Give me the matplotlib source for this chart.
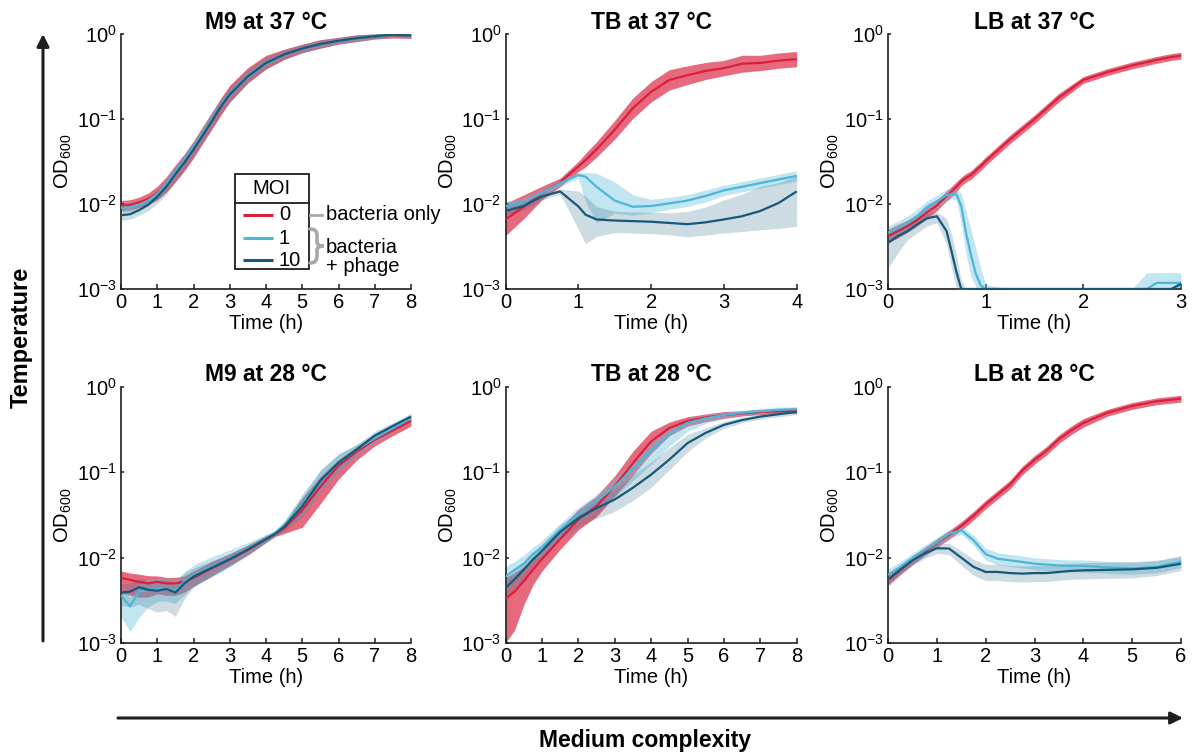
import numpy as np
import matplotlib
matplotlib.use("Agg")
import matplotlib.pyplot as plt
from matplotlib.path import Path
from matplotlib.patches import PathPatch, Rectangle
from matplotlib.ticker import FixedLocator, FuncFormatter

plt.rcParams["font.family"] = ["Liberation Sans", "DejaVu Sans"]
plt.rcParams["mathtext.fontset"] = "custom"
plt.rcParams["mathtext.rm"] = "Liberation Sans"
plt.rcParams["mathtext.it"] = "Liberation Sans:italic"
plt.rcParams["mathtext.bf"] = "Liberation Sans:bold"

# ---------------------------------------------------------------------------
# Growth curves (OD600, mean of replicates) and band widths in decades
# (dn = below the mean, up = above the mean) for MOI 0, 1 and 10.
# ---------------------------------------------------------------------------

# M9 at 37 °C
m9_37_t = [0, 0.25, 0.5, 0.75, 1, 1.25, 1.5, 1.75, 2, 2.25, 2.5, 2.75, 3, 3.5, 4, 4.5, 5, 5.5, 6, 6.5, 7, 7.5, 8]
m9_37_moi0 = [0.0096, 0.0098, 0.0105, 0.0115, 0.0135, 0.017, 0.023, 0.031, 0.044, 0.065, 0.095, 0.14, 0.20, 0.33, 0.47, 0.58, 0.68, 0.77, 0.84, 0.90, 0.94, 0.97, 0.96]
m9_37_moi1 = [0.0090, 0.0092, 0.0098, 0.011, 0.0132, 0.0172, 0.024, 0.033, 0.047, 0.068, 0.10, 0.145, 0.20, 0.33, 0.47, 0.58, 0.68, 0.77, 0.84, 0.90, 0.95, 0.98, 0.97]
m9_37_moi10 = [0.0074, 0.0076, 0.0085, 0.0098, 0.0122, 0.016, 0.0225, 0.031, 0.044, 0.064, 0.094, 0.14, 0.195, 0.32, 0.46, 0.58, 0.68, 0.77, 0.84, 0.90, 0.95, 0.99, 0.97]
m9_37_moi0_dn = [0.06, 0.06, 0.06, 0.07, 0.08, 0.09, 0.10, 0.10, 0.10, 0.10, 0.10, 0.10, 0.10, 0.09, 0.08, 0.06, 0.05, 0.05, 0.04, 0.04, 0.03, 0.03, 0.03]
m9_37_moi0_up = m9_37_moi0_dn
m9_37_moi1_dn = [0.05, 0.05, 0.05, 0.05, 0.05, 0.06, 0.06, 0.06, 0.06, 0.06, 0.05, 0.05, 0.05, 0.04, 0.04, 0.03, 0.03, 0.03, 0.03, 0.03, 0.03, 0.03, 0.03]
m9_37_moi1_up = m9_37_moi1_dn
m9_37_moi10_dn = [0.06, 0.06, 0.06, 0.07, 0.08, 0.09, 0.09, 0.09, 0.09, 0.09, 0.09, 0.09, 0.09, 0.08, 0.07, 0.06, 0.05, 0.05, 0.04, 0.04, 0.03, 0.03, 0.03]
m9_37_moi10_up = m9_37_moi10_dn

# TB at 37 °C
tb_37_t = [0, 0.25, 0.5, 0.75, 1, 1.1, 1.25, 1.5, 1.75, 2, 2.25, 2.5, 2.75, 3, 3.25, 3.5, 3.75, 4]
tb_37_moi0 = [0.0066, 0.0093, 0.0135, 0.018, 0.0277, 0.033, 0.044, 0.075, 0.135, 0.21, 0.29, 0.33, 0.37, 0.40, 0.45, 0.46, 0.49, 0.51]
tb_37_moi1 = [0.0094, 0.0105, 0.0135, 0.0177, 0.022, 0.021, 0.016, 0.011, 0.0093, 0.0095, 0.0102, 0.011, 0.0125, 0.0145, 0.016, 0.0177, 0.0195, 0.0215]
tb_37_moi10 = [0.0083, 0.0095, 0.0123, 0.0141, 0.0094, 0.0075, 0.0066, 0.0064, 0.0063, 0.0062, 0.0060, 0.0058, 0.0061, 0.0066, 0.0072, 0.0083, 0.0103, 0.0141]
tb_37_moi0_dn = [0.19, 0.14, 0.08, 0.05, 0.06, 0.08, 0.09, 0.11, 0.12, 0.12, 0.12, 0.11, 0.10, 0.09, 0.10, 0.09, 0.09, 0.09]
tb_37_moi0_up = tb_37_moi0_dn
tb_37_moi1_dn = [0.06, 0.05, 0.04, 0.04, 0.04, 0.30, 0.42, 0.15, 0.10, 0.08, 0.07, 0.07, 0.07, 0.06, 0.06, 0.06, 0.06, 0.06]
tb_37_moi1_up = [0.06, 0.05, 0.04, 0.04, 0.03, 0.05, 0.16, 0.22, 0.14, 0.08, 0.07, 0.07, 0.07, 0.06, 0.06, 0.06, 0.06, 0.06]
tb_37_moi10_dn = [0.05, 0.05, 0.04, 0.03, 0.27, 0.34, 0.20, 0.14, 0.14, 0.14, 0.14, 0.15, 0.15, 0.16, 0.18, 0.22, 0.30, 0.41]
tb_37_moi10_up = [0.05, 0.05, 0.04, 0.03, 0.18, 0.22, 0.15, 0.11, 0.11, 0.11, 0.12, 0.15, 0.18, 0.23, 0.26, 0.29, 0.24, 0.18]

# LB at 37 °C (lysed cultures sit at the 10^-3 detection floor)
lb_37_t = [0, 0.1, 0.2, 0.3, 0.4, 0.5, 0.6, 0.65, 0.7, 0.75, 0.8, 0.85, 0.9, 0.95, 1.0, 1.25, 1.5, 1.75, 2.0, 2.25, 2.5, 2.65, 2.75, 2.9, 3.0]
lb_37_moi0 = [0.0042, 0.0048, 0.0055, 0.0065, 0.0080, 0.0096, 0.0125, 0.014, 0.016, 0.0185, 0.0205, 0.022, 0.025, 0.028, 0.032, 0.058, 0.10, 0.18, 0.29, 0.36, 0.43, 0.47, 0.50, 0.54, 0.56]
lb_37_moi1 = [0.0046, 0.0052, 0.0060, 0.0072, 0.0093, 0.0108, 0.0128, 0.0132, 0.0130, 0.0095, 0.0045, 0.0025, 0.0015, 0.0011, 0.001, 0.001, 0.001, 0.001, 0.001, 0.001, 0.001, 0.001, 0.00118, 0.00118, 0.00118]
lb_37_moi10 = [0.0035, 0.0042, 0.0048, 0.0058, 0.0068, 0.0072, 0.0048, 0.0028, 0.0016, 0.001, 0.001, 0.001, 0.001, 0.001, 0.001, 0.001, 0.001, 0.001, 0.001, 0.001, 0.001, 0.001, 0.001, 0.001, 0.00115]
lb_37_moi0_dn = [0.08, 0.08, 0.07, 0.07, 0.07, 0.06, 0.06, 0.06, 0.06, 0.05, 0.05, 0.05, 0.05, 0.05, 0.05, 0.05, 0.05, 0.05, 0.04, 0.04, 0.04, 0.04, 0.04, 0.04, 0.04]
lb_37_moi0_up = lb_37_moi0_dn
lb_37_moi1_dn = [0.12, 0.10, 0.09, 0.08, 0.08, 0.08, 0.07, 0.06, 0.06, 0.20, 0.25, 0.25, 0.15, 0.05, 0, 0, 0, 0, 0, 0, 0, 0, 0.07, 0.07, 0.07]
lb_37_moi1_up = [0.08, 0.08, 0.08, 0.08, 0.07, 0.07, 0.07, 0.06, 0.06, 0.15, 0.25, 0.30, 0.30, 0.20, 0.05, 0, 0, 0, 0, 0, 0, 0.19, 0.12, 0.12, 0.12]
lb_37_moi10_dn = [0.30, 0.20, 0.10, 0.10, 0.09, 0.08, 0.15, 0.20, 0.20, 0.10, 0, 0, 0, 0, 0, 0, 0, 0, 0, 0, 0, 0, 0, 0, 0.05]
lb_37_moi10_up = [0.10, 0.10, 0.09, 0.08, 0.06, 0.05, 0.15, 0.20, 0.20, 0.10, 0, 0, 0, 0, 0, 0, 0, 0, 0, 0, 0, 0, 0, 0, 0.05]

# M9 at 28 °C
m9_28_t = [0, 0.25, 0.5, 0.75, 1, 1.25, 1.5, 1.75, 2, 2.5, 3, 3.5, 4, 4.25, 4.5, 5, 5.5, 6, 6.5, 7, 7.5, 8]
m9_28_moi0 = [0.0058, 0.0055, 0.0052, 0.0050, 0.0052, 0.0050, 0.0050, 0.0052, 0.0058, 0.0075, 0.0095, 0.0123, 0.0165, 0.019, 0.022, 0.036, 0.068, 0.12, 0.175, 0.24, 0.31, 0.40]
m9_28_moi1 = [0.0036, 0.0027, 0.0040, 0.0042, 0.0043, 0.0044, 0.0041, 0.0052, 0.0062, 0.0078, 0.0098, 0.0128, 0.0167, 0.0195, 0.024, 0.042, 0.080, 0.13, 0.185, 0.25, 0.33, 0.43]
m9_28_moi10 = [0.0039, 0.0040, 0.0045, 0.0042, 0.0041, 0.0043, 0.0039, 0.0050, 0.0060, 0.0076, 0.0096, 0.0125, 0.0165, 0.019, 0.023, 0.040, 0.080, 0.13, 0.185, 0.27, 0.35, 0.45]
m9_28_moi0_dn = [0.18, 0.18, 0.18, 0.16, 0.14, 0.14, 0.14, 0.12, 0.10, 0.09, 0.07, 0.06, 0.04, 0.03, 0.06, 0.20, 0.20, 0.16, 0.10, 0.07, 0.06, 0.06]
m9_28_moi0_up = [0.08, 0.08, 0.09, 0.09, 0.07, 0.07, 0.07, 0.07, 0.08, 0.08, 0.07, 0.06, 0.04, 0.03, 0.06, 0.14, 0.12, 0.07, 0.06, 0.05, 0.05, 0.05]
m9_28_moi1_dn = [0.25, 0.30, 0.30, 0.20, 0.15, 0.15, 0.15, 0.15, 0.13, 0.12, 0.10, 0.07, 0.05, 0.03, 0.05, 0.12, 0.12, 0.10, 0.06, 0.05, 0.04, 0.04]
m9_28_moi1_up = [0.10, 0.10, 0.10, 0.12, 0.12, 0.12, 0.12, 0.12, 0.12, 0.12, 0.10, 0.07, 0.05, 0.03, 0.05, 0.12, 0.12, 0.10, 0.06, 0.05, 0.04, 0.04]
m9_28_moi10_dn = [0.15, 0.18, 0.20, 0.22, 0.25, 0.25, 0.28, 0.18, 0.12, 0.10, 0.08, 0.06, 0.04, 0.03, 0.05, 0.12, 0.12, 0.10, 0.06, 0.05, 0.04, 0.04]
m9_28_moi10_up = [0.10, 0.10, 0.10, 0.10, 0.12, 0.12, 0.12, 0.12, 0.10, 0.08, 0.06, 0.05, 0.04, 0.03, 0.05, 0.12, 0.12, 0.10, 0.06, 0.05, 0.04, 0.04]

# TB at 28 °C
tb_28_t = [0, 0.25, 0.5, 0.75, 1, 1.5, 2, 2.5, 3, 3.5, 4, 4.5, 5, 5.5, 6, 6.5, 7, 7.5, 8]
tb_28_moi0 = [0.0033, 0.0040, 0.0053, 0.0072, 0.0096, 0.0165, 0.028, 0.040, 0.069, 0.128, 0.23, 0.33, 0.40, 0.44, 0.47, 0.49, 0.51, 0.52, 0.53]
tb_28_moi1 = [0.0060, 0.0072, 0.0085, 0.011, 0.0132, 0.021, 0.032, 0.046, 0.068, 0.11, 0.18, 0.28, 0.38, 0.43, 0.47, 0.50, 0.52, 0.54, 0.55]
tb_28_moi10 = [0.0044, 0.0056, 0.0072, 0.0095, 0.012, 0.020, 0.029, 0.038, 0.048, 0.066, 0.094, 0.141, 0.22, 0.29, 0.36, 0.41, 0.45, 0.48, 0.51]
tb_28_moi0_dn = [0.52, 0.45, 0.28, 0.18, 0.14, 0.12, 0.12, 0.12, 0.12, 0.14, 0.14, 0.09, 0.06, 0.05, 0.04, 0.03, 0.03, 0.03, 0.03]
tb_28_moi0_up = [0.25, 0.22, 0.17, 0.14, 0.12, 0.12, 0.12, 0.12, 0.12, 0.14, 0.12, 0.07, 0.05, 0.04, 0.04, 0.03, 0.03, 0.03, 0.03]
tb_28_moi1_dn = [0.12, 0.10, 0.10, 0.08, 0.08, 0.08, 0.08, 0.10, 0.12, 0.14, 0.16, 0.14, 0.10, 0.06, 0.04, 0.03, 0.03, 0.03, 0.03]
tb_28_moi1_up = [0.12, 0.10, 0.10, 0.08, 0.08, 0.08, 0.08, 0.08, 0.10, 0.10, 0.10, 0.08, 0.05, 0.04, 0.03, 0.03, 0.03, 0.03, 0.03]
tb_28_moi10_dn = [0.15, 0.12, 0.10, 0.08, 0.08, 0.08, 0.10, 0.12, 0.14, 0.15, 0.15, 0.12, 0.10, 0.06, 0.04, 0.03, 0.03, 0.03, 0.03]
tb_28_moi10_up = [0.12, 0.10, 0.08, 0.08, 0.08, 0.08, 0.08, 0.10, 0.12, 0.15, 0.15, 0.14, 0.10, 0.06, 0.04, 0.03, 0.03, 0.03, 0.03]

# LB at 28 °C
lb_28_t = [0, 0.25, 0.5, 0.75, 1, 1.25, 1.5, 1.75, 2, 2.25, 2.5, 2.75, 3, 3.25, 3.5, 3.75, 4, 4.5, 5, 5.5, 6]
lb_28_moi0 = [0.0055, 0.0072, 0.0093, 0.0118, 0.0148, 0.0185, 0.0235, 0.031, 0.042, 0.055, 0.072, 0.105, 0.14, 0.18, 0.245, 0.31, 0.38, 0.50, 0.60, 0.68, 0.73]
lb_28_moi1 = [0.0063, 0.0078, 0.0098, 0.0122, 0.015, 0.019, 0.021, 0.016, 0.011, 0.0097, 0.0093, 0.0089, 0.0085, 0.0083, 0.0081, 0.0080, 0.0080, 0.0077, 0.0075, 0.0078, 0.0090]
lb_28_moi10 = [0.0055, 0.0072, 0.0093, 0.0112, 0.0129, 0.0128, 0.0100, 0.0078, 0.0068, 0.0068, 0.0066, 0.0065, 0.0066, 0.0066, 0.0068, 0.0070, 0.0071, 0.0072, 0.0073, 0.0076, 0.0085]
lb_28_moi0_dn = [0.06, 0.05, 0.05, 0.05, 0.05, 0.05, 0.05, 0.05, 0.05, 0.05, 0.05, 0.05, 0.05, 0.05, 0.05, 0.05, 0.05, 0.04, 0.04, 0.04, 0.04]
lb_28_moi0_up = lb_28_moi0_dn
lb_28_moi1_dn = [0.07, 0.06, 0.06, 0.06, 0.06, 0.05, 0.05, 0.06, 0.07, 0.07, 0.07, 0.07, 0.07, 0.07, 0.07, 0.07, 0.07, 0.07, 0.07, 0.07, 0.07]
lb_28_moi1_up = lb_28_moi1_dn
lb_28_moi10_dn = [0.08, 0.07, 0.06, 0.06, 0.06, 0.07, 0.09, 0.10, 0.10, 0.10, 0.10, 0.10, 0.10, 0.10, 0.10, 0.10, 0.10, 0.10, 0.10, 0.09, 0.08]
lb_28_moi10_up = [0.07, 0.06, 0.06, 0.06, 0.06, 0.06, 0.08, 0.09, 0.09, 0.09, 0.09, 0.09, 0.09, 0.09, 0.09, 0.09, 0.09, 0.09, 0.09, 0.09, 0.08]

panel_titles = ["M9 at 37 °C", "TB at 37 °C", "LB at 37 °C",
                "M9 at 28 °C", "TB at 28 °C", "LB at 28 °C"]
panel_xmax = [8, 4, 3, 8, 8, 6]
moi_labels = ["0", "1", "10"]

panels = [
    (m9_37_t, [(m9_37_moi0, m9_37_moi0_dn, m9_37_moi0_up),
               (m9_37_moi1, m9_37_moi1_dn, m9_37_moi1_up),
               (m9_37_moi10, m9_37_moi10_dn, m9_37_moi10_up)]),
    (tb_37_t, [(tb_37_moi0, tb_37_moi0_dn, tb_37_moi0_up),
               (tb_37_moi1, tb_37_moi1_dn, tb_37_moi1_up),
               (tb_37_moi10, tb_37_moi10_dn, tb_37_moi10_up)]),
    (lb_37_t, [(lb_37_moi0, lb_37_moi0_dn, lb_37_moi0_up),
               (lb_37_moi1, lb_37_moi1_dn, lb_37_moi1_up),
               (lb_37_moi10, lb_37_moi10_dn, lb_37_moi10_up)]),
    (m9_28_t, [(m9_28_moi0, m9_28_moi0_dn, m9_28_moi0_up),
               (m9_28_moi1, m9_28_moi1_dn, m9_28_moi1_up),
               (m9_28_moi10, m9_28_moi10_dn, m9_28_moi10_up)]),
    (tb_28_t, [(tb_28_moi0, tb_28_moi0_dn, tb_28_moi0_up),
               (tb_28_moi1, tb_28_moi1_dn, tb_28_moi1_up),
               (tb_28_moi10, tb_28_moi10_dn, tb_28_moi10_up)]),
    (lb_28_t, [(lb_28_moi0, lb_28_moi0_dn, lb_28_moi0_up),
               (lb_28_moi1, lb_28_moi1_dn, lb_28_moi1_up),
               (lb_28_moi10, lb_28_moi10_dn, lb_28_moi10_up)]),
]

line_colors = ["#DA1F3D", "#4DB6D6", "#15587A"]
band_colors = ["#DE2A46", "#6CC3DE", "#3E7590"]
band_alphas = [0.7, 0.42, 0.26]
ink = "#1E1E1E"

W, H = 1193, 752
fig = plt.figure(figsize=(W / 100, H / 100), dpi=100)

col_px = [(121, 411), (505.5, 796.7), (888, 1181)]
row_px = [(34.3, 289), (387, 643)]


def decade_label(v, pos):
    return r"$\mathregular{10^{%d}}$" % int(round(np.log10(v)))


for i, (t, series) in enumerate(panels):
    r, c = divmod(i, 3)
    l, rr = col_px[c]
    top, bot = row_px[r]
    ax = fig.add_axes([l / W, 1 - bot / H, (rr - l) / W, (bot - top) / H])
    t = np.asarray(t)
    for k, (mean, dn, up) in enumerate(series):
        m = np.asarray(mean)
        ax.fill_between(t, m / 10 ** np.asarray(dn), m * 10 ** np.asarray(up),
                        color=band_colors[k], alpha=band_alphas[k], lw=0, zorder=1 + k)
    for k, (mean, dn, up) in enumerate(series):
        ax.plot(t, mean, color=line_colors[k], lw=1.6, zorder=5 + k,
                solid_capstyle="butt")
    ax.set_yscale("log")
    ax.set_ylim(1e-3, 1)
    ax.set_xlim(0, panel_xmax[i])
    ax.yaxis.set_major_locator(FixedLocator([1e-3, 1e-2, 1e-1, 1]))
    ax.yaxis.set_minor_locator(FixedLocator([]))
    ax.yaxis.set_major_formatter(FuncFormatter(decade_label))
    ax.set_xticks(range(panel_xmax[i] + 1))
    for s in ("top", "right"):
        ax.spines[s].set_visible(False)
    for s in ("left", "bottom"):
        ax.spines[s].set_linewidth(1.2)
        ax.spines[s].set_color(ink)
    ax.tick_params(axis="x", direction="in", length=3.5, width=1.1, color=ink,
                   labelsize=14.5, pad=3, labelcolor="black")
    ax.tick_params(axis="y", direction="in", length=2.5, width=1.1, color=ink,
                   labelsize=14.5, pad=3, labelcolor="black")
    ax.set_xlabel("Time (h)", fontsize=14.5, labelpad=1)
    ax.set_ylabel(r"OD$\mathregular{_{600}}$", fontsize=14.5, labelpad=2)
    ax.set_title(panel_titles[i], fontsize=16.5, fontweight="bold", pad=4)

# Overlay in pixel coordinates for arrows and the legend
ov = fig.add_axes([0, 0, 1, 1], zorder=10)
ov.set_xlim(0, W)
ov.set_ylim(H, 0)
ov.axis("off")

arrow_kw = dict(arrowstyle="-|>", lw=2.2, color=ink, mutation_scale=18,
                shrinkA=0, shrinkB=0)
ov.annotate("", xy=(1183, 718), xytext=(118, 718), arrowprops=arrow_kw)
ov.annotate("", xy=(43, 34), xytext=(43, 641), arrowprops=arrow_kw)
ov.text(645, 740, "Medium complexity", fontsize=16.5, fontweight="bold",
        ha="center", va="center")
ov.text(21, 337, "Temperature", fontsize=17, fontweight="bold",
        ha="center", va="center", rotation=90)

# Legend box
bx0, bx1, by0, by1, byh = 234.5, 309, 174, 269, 202.5
ov.add_patch(Rectangle((bx0, by0), bx1 - bx0, by1 - by0, fc="white",
                       ec=ink, lw=1.3, zorder=1))
ov.plot([bx0, bx1], [byh, byh], color=ink, lw=1.3, zorder=2)
ov.text((bx0 + bx1) / 2, 189, "MOI", fontsize=14.5, ha="center", va="center")
for k, yy in enumerate([215, 238, 260]):
    ov.plot([243, 273], [yy, yy], color=line_colors[k], lw=2.2,
            solid_capstyle="butt", zorder=2)
    ov.text(279, yy, moi_labels[k], fontsize=14.5, ha="left", va="center")

gray = "#A8A8A8"
ov.plot([309.5, 322], [215, 215], color=gray, lw=2)
brace = Path([(310, 229), (317, 229), (317, 235),
              (317, 242), (317, 246), (324, 246),
              (317, 246), (317, 250), (317, 256),
              (317, 263), (310, 263)],
             [Path.MOVETO, Path.CURVE3, Path.CURVE3,
              Path.LINETO, Path.CURVE3, Path.CURVE3,
              Path.CURVE3, Path.CURVE3, Path.LINETO,
              Path.CURVE3, Path.CURVE3])
ov.add_patch(PathPatch(brace, fc="none", ec=gray, lw=2.6, capstyle="round"))
ov.text(326, 215, "bacteria only", fontsize=14.5, ha="left", va="center")
ov.text(326, 257, "bacteria\n+ phage", fontsize=14.5, ha="left", va="center",
        linespacing=0.95)

fig.savefig("out.png", dpi=100)
